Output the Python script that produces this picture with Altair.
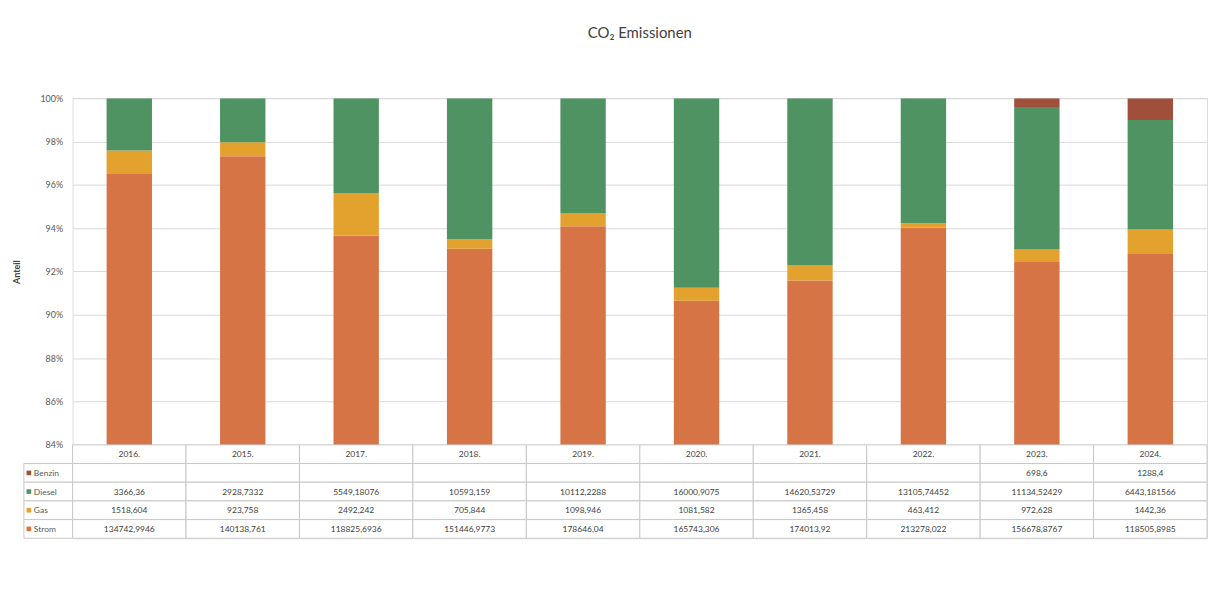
import altair as alt
import pandas as pd

years = ["2016.", "2015.", "2017.", "2018.", "2019.", "2020.", "2021.", "2022.", "2023.", "2024."]
series = ["Strom", "Gas", "Diesel", "Benzin"]
colors = ["#d67446", "#e3a22e", "#4f9363", "#a0503a"]

strom = [134742.9946, 140138.761, 118825.6936, 151446.9773, 178646.04, 165743.306, 174013.92, 213278.022, 156678.8767, 118505.8985]
gas = [1518.604, 923.758, 2492.242, 705.844, 1098.946, 1081.582, 1365.458, 463.412, 972.628, 1442.36]
diesel = [3366.36, 2928.7332, 5549.18076, 10593.159, 10112.2288, 16000.9075, 14620.53729, 13105.74452, 11134.52429, 6443.181566]
benzin = [None, None, None, None, None, None, None, None, 698.6, 1288.4]

y_ticks = [0.84, 0.86, 0.88, 0.90, 0.92, 0.94, 0.96, 0.98, 1.0]
table_rows = ["hdr", "Benzin", "Diesel", "Gas", "Strom"]

FONT = "Lato"
values = {"Strom": strom, "Gas": gas, "Diesel": diesel, "Benzin": benzin}

recs = []
for si, s in enumerate(series):
    for yi, yr in enumerate(years):
        v = values[s][yi]
        if v is not None:
            recs.append({"year": yr, "series": s, "value": v, "ord": si})
df = pd.DataFrame(recs)

cells = []
for yr in years:
    cells.append({"year": yr, "row": "hdr", "label": yr})
for s in ["Benzin", "Diesel", "Gas", "Strom"]:
    for yi, yr in enumerate(years):
        v = values[s][yi]
        cells.append({"year": yr, "row": s, "label": "" if v is None else str(v).replace(".", ",")})
cells_df = pd.DataFrame(cells)
leg_df = pd.DataFrame({"row": ["Benzin", "Diesel", "Gas", "Strom"]})

W = 1142
xscale = alt.Scale(domain=years, paddingInner=0, paddingOuter=0)
cscale = alt.Scale(domain=series, range=colors)

bars = alt.Chart(df).mark_bar(clip=True, width=alt.RelativeBandSize(0.4)).encode(
    x=alt.X("year:N", sort=years, scale=xscale, axis=None),
    y=alt.Y("value:Q", stack="normalize",
            scale=alt.Scale(domain=[0.84, 1.0], nice=False, zero=False),
            axis=alt.Axis(format=".0%", values=y_ticks, title="Anteil", grid=True,
                          gridColor="#d9d9d9", ticks=False, domain=False, labelPadding=10,
                          labelFontSize=9, labelColor="#595959", labelFont=FONT,
                          titleFont=FONT, titleFontSize=9, titleColor="#404040",
                          titleFontWeight="bold", titleX=-56, titleBaseline="middle")),
    color=alt.Color("series:N", scale=cscale, legend=None),
    order=alt.Order("ord:Q"),
).properties(
    width=W, height=349,
    title=alt.Title("CO₂ Emissionen", fontSize=15, fontWeight="normal", color="#404040",
                    font=FONT, offset=54, anchor="middle"),
)

ycell = alt.Y("row:N", sort=table_rows, scale=alt.Scale(domain=table_rows, paddingInner=0, paddingOuter=0), axis=None)
xcell = alt.X("year:N", sort=years, scale=xscale, axis=None)

grid = alt.Chart(cells_df).mark_rect(fill="white", stroke="#c8c8c8", strokeWidth=1).encode(x=xcell, y=ycell)
txt = alt.Chart(cells_df).mark_text(fontSize=8.5, color="#404040", font=FONT).encode(x=xcell, y=ycell, text="label:N")
leg_box = alt.Chart(leg_df).mark_rect(fill="white", stroke="#c8c8c8", strokeWidth=1).encode(
    x=alt.value(-49), x2=alt.value(0), y=ycell)
leg_sq = alt.Chart(leg_df).mark_square(size=22, opacity=1).encode(
    x=alt.value(-44), y=ycell, color=alt.Color("row:N", scale=cscale, legend=None))
leg_txt = alt.Chart(leg_df).mark_text(align="left", fontSize=8.5, color="#595959", font=FONT).encode(
    x=alt.value(-39), y=ycell, text="row:N")

table = alt.layer(grid, txt, leg_box, leg_sq, leg_txt).properties(width=W, height=94)

chart = alt.vconcat(bars, table, spacing=0, bounds="flush").properties(
    padding={"left": 4, "top": 15, "right": 5, "bottom": 5}
).configure_view(strokeWidth=0).configure(background="white")

chart.save("out.html", embed_options={"renderer": "svg", "actions": False})
